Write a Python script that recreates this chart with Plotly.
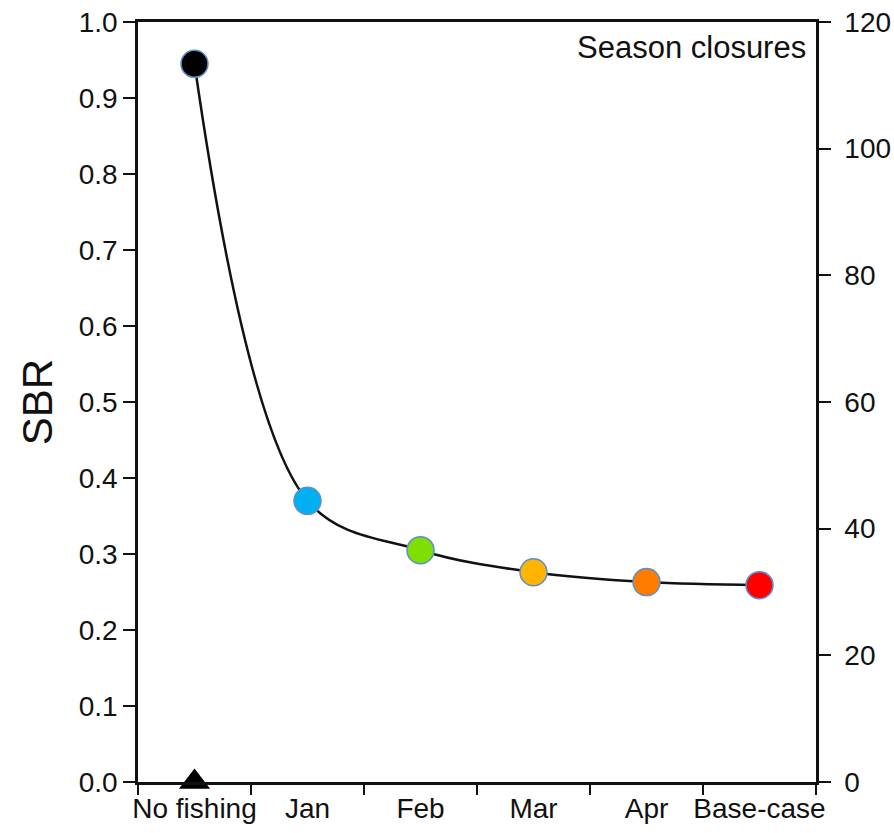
import plotly.graph_objects as go

# Scenario categories and spawning biomass ratio for each
categories = ["No fishing", "Jan", "Feb", "Mar", "Apr", "Base-case"]
sbr = [0.945, 0.370, 0.305, 0.276, 0.263, 0.259]
marker_colors = ["#000000", "#00b0f0", "#7fe000", "#ffb400", "#ff7c00", "#ff0000"]

# Reference level marked on the x axis
ref_category = ["No fishing"]
ref_value = [0.0]

# Axis tick values
right_ticks = [0, 20, 40, 60, 80, 100, 120]
left_ticks = [round(0.1 * i, 1) for i in range(11)]

FONT = "Arial, Liberation Sans, sans-serif"

fig = go.Figure()

fig.add_trace(go.Scatter(
    x=categories, y=sbr, mode="lines",
    line=dict(color="#111111", width=2.5, shape="spline", smoothing=1.0),
    hoverinfo="skip", showlegend=False,
))

fig.add_trace(go.Scatter(
    x=categories, y=sbr, mode="markers",
    marker=dict(size=27, color=marker_colors,
                line=dict(color="#5b8fd0", width=1.5)),
    showlegend=False,
))

fig.add_trace(go.Scatter(
    x=ref_category, y=ref_value, mode="markers",
    marker=dict(symbol="triangle-up", size=27, color="#000000"),
    cliponaxis=False, showlegend=False,
))

# Invisible trace to carry the secondary axis
fig.add_trace(go.Scatter(
    x=categories, y=[None] * len(categories), yaxis="y2",
    mode="markers", showlegend=False, hoverinfo="skip",
))

fig.add_annotation(
    text="Season closures", xref="paper", yref="paper",
    x=1, y=1, xanchor="right", yanchor="top", xshift=-8, yshift=-6,
    showarrow=False, font=dict(family=FONT, size=31, color="#111111"),
)

fig.update_layout(
    width=894, height=833,
    margin=dict(l=138, r=78, t=22, b=51),
    paper_bgcolor="white", plot_bgcolor="white",
    font=dict(family=FONT, size=28, color="#111111"),
    xaxis=dict(
        type="category", range=[-0.5, 5.5], tickangle=0, automargin=False,
        tickson="boundaries", ticks="outside", ticklen=10, tickwidth=2,
        tickcolor="#111111", showline=True, linecolor="#111111", linewidth=2.5,
        mirror=True, showgrid=False, zeroline=False,
        tickfont=dict(size=28),
    ),
    yaxis=dict(
        range=[0, 1.0], tickvals=left_ticks, tickformat=".1f", automargin=False,
        ticks="outside", ticklen=12, tickwidth=2, tickcolor="#111111",
        showline=True, linecolor="#111111", linewidth=2.5,
        showgrid=False, zeroline=False,
        title=dict(text="SBR", font=dict(size=42), standoff=14),
    ),
    yaxis2=dict(
        range=[0, 120], tickvals=right_ticks, overlaying="y", side="right",
        automargin=False, ticklabelstandoff=8,
        ticks="outside", ticklen=12, tickwidth=2, tickcolor="#111111",
        showline=True, linecolor="#111111", linewidth=2.5,
        showgrid=False, zeroline=False,
    ),
)

fig.write_html("out.html")
